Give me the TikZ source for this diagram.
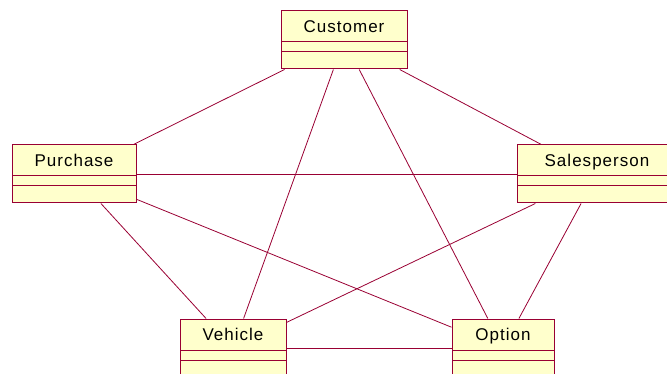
\documentclass[tikz,border=0pt]{standalone}
\usepackage{fontspec}
\setmainfont[LetterSpace=6]{Liberation Sans}
\usetikzlibrary{positioning}

\definecolor{roseline}{RGB}{153,0,51}
\definecolor{rosefill}{RGB}{255,255,204}

\begin{document}
\begin{tikzpicture}[
            x = 1pt, y = -1pt, % one unit per pixel, y going down
            on grid,
            semithick, % line style
            font = \fontsize{17pt}{19pt}\selectfont
        ]

        \tikzstyle{umlclass}=[
            draw = roseline,
            line width = 1pt,
            fill = rosefill,
            inner ysep = 0pt,
            text height = 22pt,
            text depth = 36pt,
            path picture = {
                \draw[roseline, line width = 1pt]
                    ([yshift=-31pt]path picture bounding box.north west) --
                    ([yshift=-31pt]path picture bounding box.north east)
                    ([yshift=-41pt]path picture bounding box.north west) --
                    ([yshift=-41pt]path picture bounding box.north east);
            }
        ]
        \tikzstyle{assoc}=[draw = roseline, line width = 0.8pt]

        \useasboundingbox (0,0) rectangle (667,374);

	% classes
        \node[umlclass, minimum width = 126pt] (Customer) at (344,40) {Customer};
        \node[umlclass, minimum width = 124pt] (Purchase) [below left = 134pt and 270pt of Customer] {Purchase};
        \node[umlclass, minimum width = 160pt] (Salesperson) [below right = 134pt and 253pt of Customer] {Salesperson};
        \node[umlclass, minimum width = 106pt] (Vehicle) [below right = 174pt and 159pt of Purchase] {Vehicle};
        \node[umlclass, minimum width = 102pt] (Option) [right = 270pt of Vehicle] {Option};

        % associations
        \path[assoc] (Customer) edge (Purchase);
        \path[assoc] (Customer) edge (Salesperson);
        \path[assoc] (Customer) edge (Vehicle);
        \path[assoc] (Customer) edge (Option);

        \path[assoc] (Purchase) edge (Salesperson);
        \path[assoc] (Purchase) edge (Vehicle);
        \path[assoc] (Purchase) edge (Option);

        \path[assoc] (Salesperson) edge (Vehicle);
        \path[assoc] (Salesperson) edge (Option);

        \path[assoc] (Vehicle) edge (Option);

  \end{tikzpicture}
\end{document}
